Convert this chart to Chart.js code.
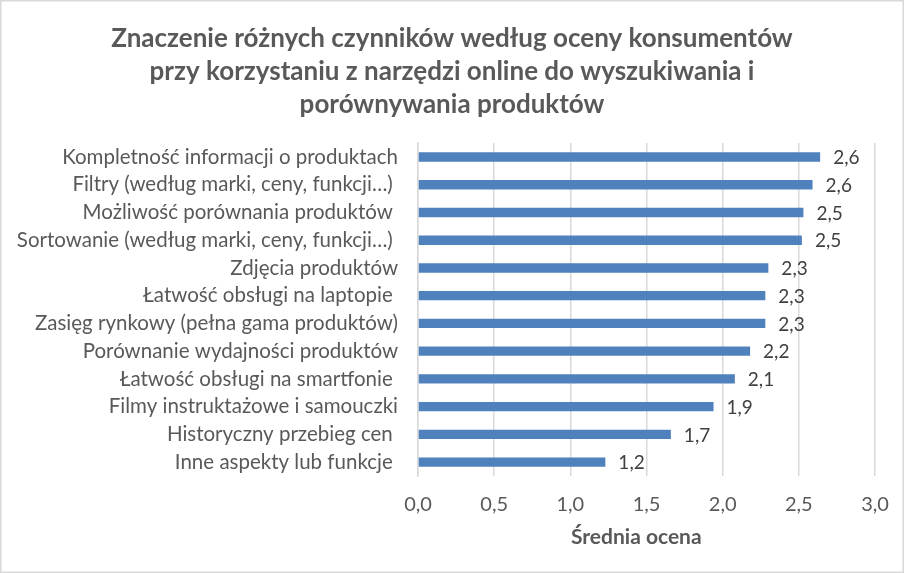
<!DOCTYPE html>
<html>
<head>
<meta charset="utf-8">
<script src="https://cdn.jsdelivr.net/npm/chart.js@4"></script>
<style>
  html, body { margin: 0; padding: 0; background: #fff; }
  #box { width: 904px; height: 573px; }
</style>
</head>
<body>
<div id="box"><canvas id="chart"></canvas></div>
<script>
const categories = [
  "Kompletność informacji o produktach",
  "Filtry (według marki, ceny, funkcji…) ",
  "Możliwość porównania produktów ",
  "Sortowanie (według marki, ceny, funkcji…) ",
  "Zdjęcia produktów",
  "Łatwość obsługi na laptopie ",
  "Zasięg rynkowy (pełna gama produktów)",
  "Porównanie wydajności produktów",
  "Łatwość obsługi na smartfonie ",
  "Filmy instruktażowe i samouczki",
  "Historyczny przebieg cen ",
  "Inne aspekty lub funkcje "
];
const scores = [2.64, 2.59, 2.53, 2.52, 2.30, 2.28, 2.28, 2.18, 2.08, 1.94, 1.66, 1.23];
const xTicks = [0, 0.5, 1, 1.5, 2, 2.5, 3];

const titleLines = [
  "Znaczenie różnych czynników według oceny konsumentów",
  "przy korzystaniu z narzędzi online do wyszukiwania i",
  "porównywania produktów"
];

const fmt = (v) => v.toFixed(1).replace(".", ",");
const FONT = "Lato";

// white background + thin grey frame like the excel chart area
const frame = {
  id: "frame",
  beforeDraw(chart) {
    const ctx = chart.ctx;
    ctx.save();
    ctx.fillStyle = "#fff";
    ctx.fillRect(0, 0, chart.width, chart.height);
    ctx.strokeStyle = "#d9d9d9";
    ctx.lineWidth = 1.5;
    ctx.strokeRect(0.75, 0.75, chart.width - 1.5, chart.height - 1.5);
    ctx.restore();
  }
};

// value labels at the end of every bar
const valueLabels = {
  id: "valueLabels",
  afterDatasetsDraw(chart) {
    const ctx = chart.ctx;
    const meta = chart.getDatasetMeta(0);
    ctx.save();
    ctx.font = "19px " + FONT;
    ctx.fillStyle = "#404040";
    ctx.textAlign = "left";
    ctx.textBaseline = "middle";
    meta.data.forEach((bar, i) => {
      ctx.fillText(fmt(scores[i]), bar.x + 13, bar.y + 1);
    });
    ctx.restore();
  }
};

new Chart(document.getElementById("chart"), {
  type: "bar",
  data: {
    labels: categories,
    datasets: [{
      data: scores,
      backgroundColor: "#4f81bd",
      barPercentage: 0.34,
      categoryPercentage: 1
    }]
  },
  options: {
    indexAxis: "y",
    responsive: true,
    maintainAspectRatio: false,
    animation: false,
    layout: { padding: { top: 1, right: 0, bottom: 0, left: 0 } },
    plugins: {
      legend: { display: false },
      tooltip: { enabled: false },
      title: {
        display: true,
        text: titleLines,
        color: "#595959",
        font: { family: FONT, size: 26, weight: "bold", lineHeight: 1.27 },
        padding: { top: 21, bottom: 22 }
      }
    },
    scales: {
      x: {
        min: 0,
        max: 3,
        afterBuildTicks: (s) => { s.ticks = xTicks.map(v => ({ value: v })); },
        afterFit: (s) => { s.height = 97; s.paddingRight = 29; },
        grid: { color: "#d9d9d9", lineWidth: 1.5, drawTicks: false },
        border: { display: false },
        ticks: {
          padding: 17,
          color: "#595959",
          font: { family: FONT, size: 20 },
          callback: (v) => fmt(v)
        },
        title: {
          display: true,
          text: "Średnia ocena    ",
          color: "#595959",
          font: { family: FONT, size: 21, weight: "bold" },
          padding: { top: 0, bottom: 23 }
        }
      },
      y: {
        afterFit: (s) => { s.width = 418; },
        grid: { display: false, drawTicks: false },
        border: { color: "#d9d9d9", width: 1.5 },
        ticks: {
          padding: 20,
          color: "#595959",
          font: { family: FONT, size: 20.5 },
          autoSkip: false
        }
      }
    }
  },
  plugins: [frame, valueLabels]
});
</script>
</body>
</html>
